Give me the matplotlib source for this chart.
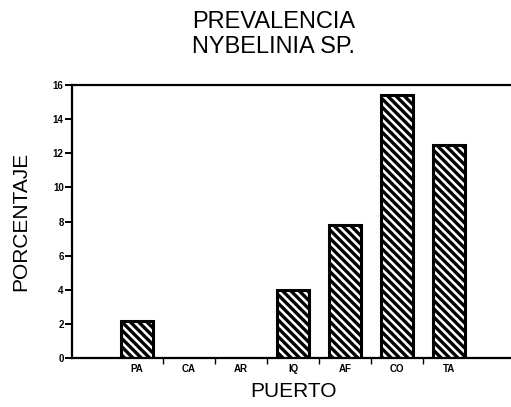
import numpy as np
import matplotlib
matplotlib.use("Agg")
import matplotlib.pyplot as plt

# Prevalencia de Nybelinia sp. por puerto
puertos = ["PA", "CA", "AR", "IQ", "AF", "CO", "TA"]
porcentaje = [2.2, 0.0, 0.0, 4.0, 7.8, 15.4, 12.5]
y_ticks = [0, 2, 4, 6, 8, 10, 12, 14, 16]

plt.rcParams["font.family"] = ["Liberation Sans", "DejaVu Sans"]
plt.rcParams["hatch.linewidth"] = 2.4

fig = plt.figure(figsize=(5.11, 4.07), dpi=100)
ax = fig.add_axes([0.141, 0.120, 0.857, 0.671])

x = np.arange(len(puertos))
ax.bar(x, porcentaje, width=0.62, color="white", edgecolor="black",
       linewidth=2.2, hatch="\\\\\\\\")

ax.set_ylim(0, 16)
ax.set_xlim(-1.25, 7.17)

ax.spines["right"].set_visible(False)
for side in ["left", "bottom", "top"]:
    ax.spines[side].set_linewidth(1.6)

ax.set_yticks(y_ticks)
ax.set_yticklabels([str(t) for t in y_ticks], fontsize=7, fontweight="bold")
ax.tick_params(axis="y", direction="out", length=5, width=1.4, pad=1)

# tick marks between categories, labels at category centres
ax.set_xticks(x[:-1] + 0.5)
ax.set_xticklabels([])
ax.set_xticks(x, minor=True)
ax.set_xticklabels(puertos, minor=True, fontsize=7, fontweight="bold")
ax.tick_params(axis="x", which="major", direction="out", length=4, width=1.0)
ax.tick_params(axis="x", which="minor", length=0, pad=4)

fig.text(0.040, 0.457, "PORCENTAJE", rotation=90, ha="center", va="center",
         fontsize=15)
fig.text(0.575, 0.037, "PUERTO", ha="center", va="center", fontsize=15)
fig.text(0.535, 0.915, "PREVALENCIA\nNYBELINIA SP.", ha="center", va="center",
         fontsize=17, linespacing=1.2)

fig.savefig("out.png", dpi=100)
